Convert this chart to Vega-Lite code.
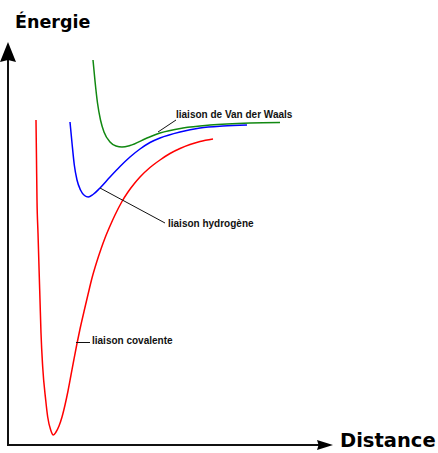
{
  "$schema": "https://vega.github.io/schema/vega-lite/v6.json",
  "width": 438,
  "height": 453,
  "autosize": {"type": "fit", "contains": "padding"},
  "padding": 0,
  "background": "white",
  "config": {"view": {"stroke": null}},
  "datasets": {
    "curves": [
      {"series": "covalente", "x": 36, "y": 333},
      {"series": "covalente", "x": 36.5, "y": 293},
      {"series": "covalente", "x": 37, "y": 253},
      {"series": "covalente", "x": 38, "y": 220},
      {"series": "covalente", "x": 39, "y": 186},
      {"series": "covalente", "x": 40, "y": 153},
      {"series": "covalente", "x": 41, "y": 120},
      {"series": "covalente", "x": 42.7, "y": 86},
      {"series": "covalente", "x": 45.7, "y": 53},
      {"series": "covalente", "x": 47.7, "y": 36},
      {"series": "covalente", "x": 50.7, "y": 23},
      {"series": "covalente", "x": 53.3, "y": 18},
      {"series": "covalente", "x": 56, "y": 21},
      {"series": "covalente", "x": 59, "y": 27},
      {"series": "covalente", "x": 62, "y": 36},
      {"series": "covalente", "x": 65, "y": 48},
      {"series": "covalente", "x": 68, "y": 62},
      {"series": "covalente", "x": 71, "y": 78},
      {"series": "covalente", "x": 74, "y": 94},
      {"series": "covalente", "x": 76.7, "y": 108},
      {"series": "covalente", "x": 80, "y": 124},
      {"series": "covalente", "x": 84, "y": 141.5},
      {"series": "covalente", "x": 88, "y": 158.5},
      {"series": "covalente", "x": 92, "y": 175},
      {"series": "covalente", "x": 96.7, "y": 191},
      {"series": "covalente", "x": 101, "y": 204},
      {"series": "covalente", "x": 105, "y": 215},
      {"series": "covalente", "x": 110, "y": 227},
      {"series": "covalente", "x": 115, "y": 238},
      {"series": "covalente", "x": 121.7, "y": 251},
      {"series": "covalente", "x": 128, "y": 261},
      {"series": "covalente", "x": 134, "y": 269},
      {"series": "covalente", "x": 140, "y": 276},
      {"series": "covalente", "x": 150, "y": 285.5},
      {"series": "covalente", "x": 160, "y": 293},
      {"series": "covalente", "x": 170, "y": 299.5},
      {"series": "covalente", "x": 180, "y": 304.5},
      {"series": "covalente", "x": 190, "y": 308.5},
      {"series": "covalente", "x": 200, "y": 311.5},
      {"series": "covalente", "x": 213, "y": 314},
      {"series": "hydrogene", "x": 70, "y": 331},
      {"series": "hydrogene", "x": 72, "y": 310},
      {"series": "hydrogene", "x": 74.3, "y": 288},
      {"series": "hydrogene", "x": 77, "y": 273},
      {"series": "hydrogene", "x": 80.5, "y": 263},
      {"series": "hydrogene", "x": 84.5, "y": 257.5},
      {"series": "hydrogene", "x": 88.3, "y": 256},
      {"series": "hydrogene", "x": 93, "y": 258.5},
      {"series": "hydrogene", "x": 100, "y": 265},
      {"series": "hydrogene", "x": 110, "y": 276},
      {"series": "hydrogene", "x": 120, "y": 286.5},
      {"series": "hydrogene", "x": 130, "y": 296},
      {"series": "hydrogene", "x": 140, "y": 304},
      {"series": "hydrogene", "x": 150, "y": 310.5},
      {"series": "hydrogene", "x": 160, "y": 315},
      {"series": "hydrogene", "x": 180, "y": 321},
      {"series": "hydrogene", "x": 200, "y": 325},
      {"series": "hydrogene", "x": 223, "y": 327},
      {"series": "hydrogene", "x": 247, "y": 328},
      {"series": "vdw", "x": 93, "y": 393},
      {"series": "vdw", "x": 95, "y": 372},
      {"series": "vdw", "x": 97.5, "y": 350},
      {"series": "vdw", "x": 100.5, "y": 333},
      {"series": "vdw", "x": 104, "y": 321},
      {"series": "vdw", "x": 110, "y": 311},
      {"series": "vdw", "x": 116, "y": 307},
      {"series": "vdw", "x": 122, "y": 306},
      {"series": "vdw", "x": 130, "y": 307.5},
      {"series": "vdw", "x": 147, "y": 315},
      {"series": "vdw", "x": 160, "y": 320},
      {"series": "vdw", "x": 183, "y": 325},
      {"series": "vdw", "x": 210, "y": 328},
      {"series": "vdw", "x": 250, "y": 330},
      {"series": "vdw", "x": 280, "y": 330.5}
    ],
    "segments": [
      {"kind": "axis", "x": 8, "y": 7, "xe": 8, "ye": 395},
      {"kind": "axis", "x": 7, "y": 8, "xe": 320, "ye": 8},
      {"kind": "leader", "x": 158, "y": 321, "xe": 176, "ye": 333},
      {"kind": "leader", "x": 100, "y": 265, "xe": 165, "ye": 230},
      {"kind": "leader", "x": 76, "y": 110.5, "xe": 90, "ye": 110.5}
    ],
    "arrows": [
      {"dir": "up", "x": 8, "y": 401},
      {"dir": "right", "x": 325, "y": 8}
    ],
    "labels": [
      {"text": "liaison de Van der Waals", "x": 176, "y": 335},
      {"text": "liaison hydrogène", "x": 168, "y": 226},
      {"text": "liaison covalente", "x": 92, "y": 109}
    ],
    "titles": [
      {"axis": "y", "text": "Énergie", "x": 15, "y": 425},
      {"axis": "x", "text": "Distance", "x": 340, "y": 6}
    ]
  },
  "layer": [
    {
      "data": {"name": "curves"},
      "mark": {"type": "line", "interpolate": "monotone", "strokeWidth": 1.5},
      "encoding": {
        "x": {"field": "x", "type": "quantitative", "scale": {"domain": [0, 438], "nice": false, "zero": false}, "axis": null},
        "y": {"field": "y", "type": "quantitative", "scale": {"domain": [0, 453], "nice": false, "zero": false}, "axis": null},
        "color": {"field": "series", "type": "nominal", "scale": {"domain": ["covalente", "hydrogene", "vdw"], "range": ["#ff0000", "#0000ff", "#118811"]}, "legend": null},
        "detail": {"field": "series"}
      }
    },
    {
      "data": {"name": "segments"},
      "transform": [{"filter": "datum.kind === 'axis'"}],
      "mark": {"type": "rule", "strokeWidth": 2, "color": "#111111"},
      "encoding": {
        "x": {"field": "x", "type": "quantitative", "scale": {"domain": [0, 438], "nice": false, "zero": false}, "axis": null},
        "y": {"field": "y", "type": "quantitative", "scale": {"domain": [0, 453], "nice": false, "zero": false}, "axis": null},
        "x2": {"field": "xe"},
        "y2": {"field": "ye"}
      }
    },
    {
      "data": {"name": "segments"},
      "transform": [{"filter": "datum.kind === 'leader'"}],
      "mark": {"type": "rule", "strokeWidth": 1, "color": "#111111"},
      "encoding": {
        "x": {"field": "x", "type": "quantitative", "scale": {"domain": [0, 438], "nice": false, "zero": false}, "axis": null},
        "y": {"field": "y", "type": "quantitative", "scale": {"domain": [0, 453], "nice": false, "zero": false}, "axis": null},
        "x2": {"field": "xe"},
        "y2": {"field": "ye"}
      }
    },
    {
      "data": {"name": "arrows"},
      "transform": [{"filter": "datum.dir === 'up'"}],
      "mark": {"type": "point", "filled": true, "color": "#000000", "opacity": 1, "strokeWidth": 0, "size": 400, "shape": "M0,-1L0.8,1L0,0.8L-0.8,1Z"},
      "encoding": {
        "x": {"field": "x", "type": "quantitative", "scale": {"domain": [0, 438], "nice": false, "zero": false}, "axis": null},
        "y": {"field": "y", "type": "quantitative", "scale": {"domain": [0, 453], "nice": false, "zero": false}, "axis": null}
      }
    },
    {
      "data": {"name": "arrows"},
      "transform": [{"filter": "datum.dir === 'right'"}],
      "mark": {"type": "point", "filled": true, "color": "#000000", "opacity": 1, "strokeWidth": 0, "size": 256, "shape": "M1,0L-1,0.625L-0.8,0L-1,-0.625Z"},
      "encoding": {
        "x": {"field": "x", "type": "quantitative", "scale": {"domain": [0, 438], "nice": false, "zero": false}, "axis": null},
        "y": {"field": "y", "type": "quantitative", "scale": {"domain": [0, 453], "nice": false, "zero": false}, "axis": null}
      }
    },
    {
      "data": {"name": "labels"},
      "mark": {"type": "text", "align": "left", "baseline": "alphabetic", "font": "Liberation Sans", "fontWeight": "bold", "fontSize": 10, "color": "#111111"},
      "encoding": {
        "x": {"field": "x", "type": "quantitative", "scale": {"domain": [0, 438], "nice": false, "zero": false}, "axis": null},
        "y": {"field": "y", "type": "quantitative", "scale": {"domain": [0, 453], "nice": false, "zero": false}, "axis": null},
        "text": {"field": "text"}
      }
    },
    {
      "data": {"name": "titles"},
      "transform": [{"filter": "datum.axis === 'y'"}],
      "mark": {"type": "text", "align": "left", "baseline": "alphabetic", "font": "DejaVu Sans", "fontWeight": "bold", "fontSize": 17.5, "color": "#000000"},
      "encoding": {
        "x": {"field": "x", "type": "quantitative", "scale": {"domain": [0, 438], "nice": false, "zero": false}, "axis": null},
        "y": {"field": "y", "type": "quantitative", "scale": {"domain": [0, 453], "nice": false, "zero": false}, "axis": null},
        "text": {"field": "text"}
      }
    },
    {
      "data": {"name": "titles"},
      "transform": [{"filter": "datum.axis === 'x'"}],
      "mark": {"type": "text", "align": "left", "baseline": "alphabetic", "font": "DejaVu Sans", "fontWeight": "bold", "fontSize": 19.5, "color": "#000000"},
      "encoding": {
        "x": {"field": "x", "type": "quantitative", "scale": {"domain": [0, 438], "nice": false, "zero": false}, "axis": null},
        "y": {"field": "y", "type": "quantitative", "scale": {"domain": [0, 453], "nice": false, "zero": false}, "axis": null},
        "text": {"field": "text"}
      }
    }
  ]
}
